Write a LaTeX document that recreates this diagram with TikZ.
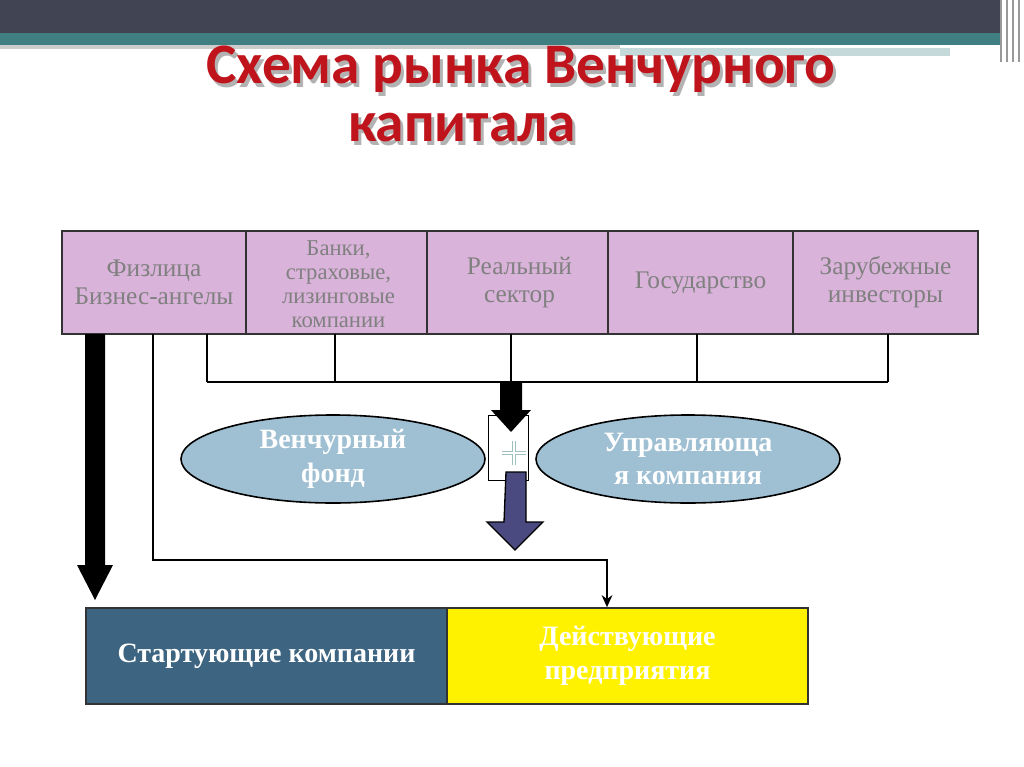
\documentclass[tikz,border=0pt]{standalone}
\usepackage{fontspec}
\setmainfont{Liberation Serif}
\newfontfamily\titlefont{Carlito}
\usetikzlibrary{shapes.geometric,arrows.meta}
\definecolor{boxpink}{HTML}{D9B3D9}
\definecolor{ellblue}{HTML}{9FBFD3}
\definecolor{darkteal}{HTML}{3D6480}
\definecolor{arrowblue}{HTML}{4A4A80}
\definecolor{bardark}{HTML}{414452}
\definecolor{barteal}{HTML}{3F7F82}
\definecolor{titlered}{HTML}{C0141C}
\begin{document}
\begin{tikzpicture}[x=0.75pt,y=-0.75pt,
  topbox/.style={draw=black!80,line width=1.5pt,fill=boxpink,minimum width=138.75pt,minimum height=77pt,inner sep=0pt,text=black!50,font=\fontsize{19}{21}\selectfont,align=center},
  ell/.style={ellipse,draw=black,line width=1.2pt,fill=ellblue,minimum width=228pt,minimum height=66pt,inner sep=0pt},
  elltext/.style={text=white,font=\bfseries\fontsize{21}{25}\selectfont,align=center},
  bot/.style={draw=black!80,line width=1.2pt,minimum width=270.75pt,minimum height=72pt,inner sep=0pt,font=\bfseries\fontsize{21}{25}\selectfont,align=center},
  ttl/.style={font=\titlefont\bfseries\fontsize{43}{46}\selectfont},
  conn/.style={line width=2pt,black}]
\useasboundingbox (0,0) rectangle (1024,767);
% top bar
\fill[bardark] (0,0) rectangle (1000,33);
\fill[barteal] (0,33) rectangle (1000,45);
\fill[black!20] (0,45) rectangle (620,49);
\fill[barteal!30] (620,48) rectangle (950,56);
\foreach \x in {1000,1006,1012,1018}{\fill[black!40] (\x,0) rectangle (\x+2,62);}
% title
\node[ttl,text=black!30] at (524,73) {Схема рынка Венчурного};
\node[ttl,text=titlered] (t1) at (521,69) {Схема рынка Венчурного};
\node[ttl,text=black!30] at (465,132) {капитала};
\node[ttl,text=titlered] (t2) at (462,128) {капитала};
% top boxes
\node[topbox] (b1) at (154,282.5) {Физлица\\Бизнес-ангелы};
\node[topbox] (b2) at (338.5,282.5) {};
\node[text=black!50,font=\fontsize{17}{18}\selectfont,align=center] at (338.5,284) {Банки,\\страховые,\\лизинговые\\компании};
\node[topbox] (b3) at (519.5,282.5) {Реальный\\сектор};
\node[topbox] (b4) at (700.5,282.5) {Государство};
\node[topbox] (b5) at (885.5,282.5) {Зарубежные\\инвесторы};
% bracket
\coordinate (hl) at (207,382); \coordinate (hr) at (888,382);
\draw[conn] (hl) -- (hr);
\foreach \x in {207,335,511,697,888}{\draw[conn] (\x,334) -- (\x,382);}
% ellipses
\node[ell] (e1) at (333,459) {};
\node[elltext] at (e1) {Венчурный\\фонд};
\node[ell] (e2) at (688,459) {};
\node[elltext] at (e2) {Управляюща\\я компания};
% plus box
\node[draw=black,line width=0.8pt,fill=white,minimum width=30pt,minimum height=49pt,inner sep=0pt] (pl) at (508.5,448) {};
\draw[line width=3.5pt,barteal!50!white] (502,453) -- (526,453) (514,441) -- (514,465);
\draw[line width=1.8pt,white] (502,453) -- (526,453) (514,441) -- (514,465);
% black arrow down
\fill[black] (500,383) -- (522,383) -- (522,410) -- (531,410) -- (511,432) -- (491,410) -- (500,410) -- cycle;
% blue arrow
\draw[fill=arrowblue,line width=1pt] (506,472) -- (526,472) -- (526,522) -- (543,522) -- (515,550) -- (487,522) -- (504,522) -- cycle;
% bottom boxes
\node[bot,fill=darkteal,text=white] (s1) at (266.5,656) {Стартующие компании};
\node[bot,fill=yellow,text=white] (s2) at (627.5,656) {Действующие\\предприятия};
% left thick arrow
\fill[black] (85,334) -- (105,334) -- (105,565) -- (113,565) -- (95,600) -- (77,565) -- (85,565) -- cycle;
% thin connector
\coordinate (c1) at (153,560); \coordinate (c2) at (607,560);
\draw[line width=1.5pt,-{Stealth[length=9pt,width=8pt]}] (153,334) -- (c1) -- (c2) -- (s2.north -| c2);
\end{tikzpicture}
\end{document}
